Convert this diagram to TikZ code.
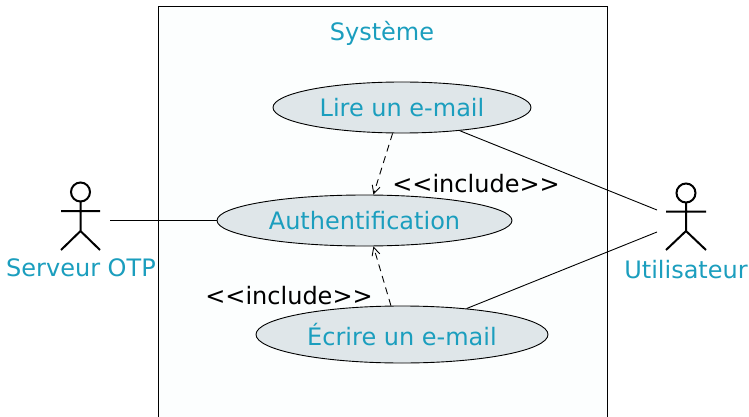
\documentclass[tikz,border=0pt]{standalone}
\usepackage{fontspec}
\setmainfont{DejaVu Sans}
\usetikzlibrary{shapes.geometric,arrows.meta}
\definecolor{tealtxt}{RGB}{27,158,190}
\definecolor{ucfill}{RGB}{223,230,233}
\definecolor{boxfill}{RGB}{252,254,254}
\tikzset{
  uc/.style={ellipse, draw=black, line width=0.9pt, fill=ucfill, inner sep=0pt,
    text=tealtxt, font=\fontsize{24}{28}\selectfont},
  lbl/.style={inner sep=0pt, text=tealtxt, font=\fontsize{24}{28}\selectfont},
  stereo/.style={inner sep=0pt, text=black, font=\fontsize{24}{28}\selectfont},
  assoc/.style={draw=black, line width=0.9pt},
  incl/.style={draw=black, line width=0.9pt, dash pattern=on 7pt off 5pt,
    -{Straight Barb[length=8pt,width=8pt]}},
  stick/.style={draw=black, line width=2pt}
}
\newcommand{\inclstereo}{<\kern0pt<include>\kern0pt>}
\begin{document}
\begin{tikzpicture}[x=1pt,y=-1pt]
\useasboundingbox (0,0) rectangle (749,417);
\clip (0,0) rectangle (749,417);
\fill[white] (0,0) rectangle (749,417);
% system boundary
\draw[fill=boxfill, line width=1pt] (158,7) rectangle (607,440);
\node[lbl] (sys) at (382,33) {Système};
% use cases
\node[uc, minimum width=258pt, minimum height=51pt] (lire) at (402,107.5) {Lire un e-mail};
\node[uc, minimum width=295pt, minimum height=51pt] (auth) at (364.5,220.5) {Authentification};
\node[uc, minimum width=292pt, minimum height=57pt] (ecrire) at (402,334.5) {Écrire un e-mail};
% actor Serveur OTP
\draw[stick] (80.5,192) circle[radius=9.5];
\draw[stick] (80.5,201.5) -- (80.5,231) (61,211) -- (100,211)
  (61,250) -- (80.5,231) -- (100,250);
\node[lbl] (otp) at (81,268) {Serveur OTP};
\coordinate (otpend) at (110,220.5);
% actor Utilisateur
\draw[stick] (686,193) circle[radius=9.5];
\draw[stick] (686,202.5) -- (686,231) (666,211.5) -- (706,211.5)
  (666,250) -- (686,231) -- (706,250);
\node[lbl] (user) at (686,270) {Utilisateur};
\coordinate (userA) at (657,210);
\coordinate (userB) at (657,232);
% associations
\draw[assoc] (otpend) -- (auth.west);
\draw[assoc] (lire) -- (userA);
\draw[assoc] (ecrire) -- (userB);
% includes
\draw[incl] (lire.250) -- (auth.71);
\draw[incl] (ecrire.111) -- (auth.289);
\node[stereo] (inc1) at (476,184) {\inclstereo};
\node[stereo] (inc2) at (289,296) {\inclstereo};
\end{tikzpicture}
\end{document}
